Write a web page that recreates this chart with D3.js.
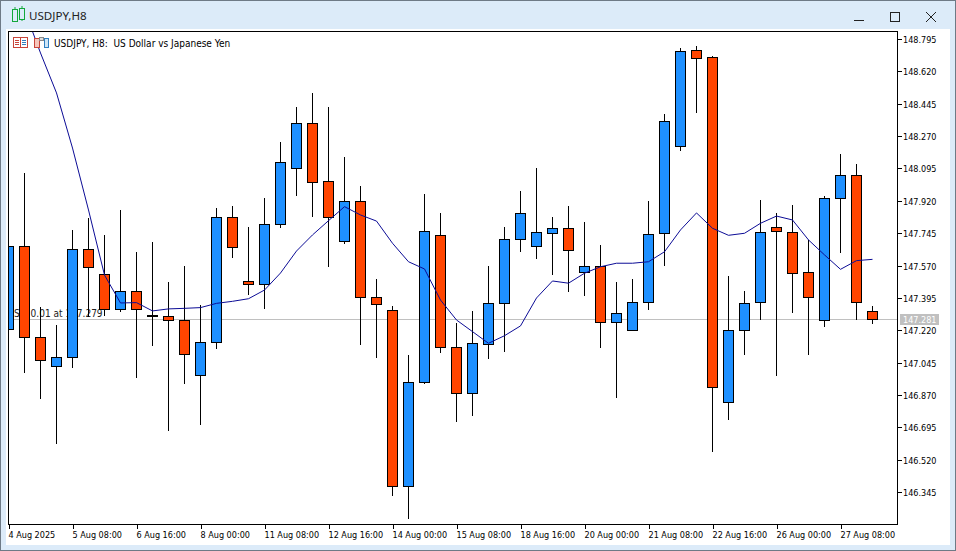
<!DOCTYPE html>
<html>
<head>
<meta charset="utf-8">
<title>USDJPY,H8</title>
<script src="https://cdn.jsdelivr.net/npm/d3@7"></script>
<style>
  html, body { margin: 0; padding: 0; background: #fff; overflow: hidden; }
  svg { display: block; font-family: "DejaVu Sans", "Liberation Sans", sans-serif; font-stretch: condensed; }
  .axis text { font-size: 9px; fill: #000; font-family: "DejaVu Sans", sans-serif; font-stretch: condensed; }
  .axis path, .axis line { stroke: #000; shape-rendering: crispEdges; }
</style>
</head>
<body>
<div id="chart"></div>
<script>
// One entry per H8 candle, first one is cut by the left edge
const opens = [
  147.224, 147.678, 147.185, 147.028, 147.076, 147.657, 147.525, 147.336, 147.433, 147.300, 147.298,
  147.276, 146.979, 147.157, 147.833, 147.487, 147.469, 147.796, 148.099, 148.342, 148.028,
  147.702, 147.920, 147.401, 147.331, 146.379, 146.941, 147.736, 147.130, 146.882, 147.147,
  147.368, 147.715, 147.677, 147.747, 147.774, 147.536, 147.569, 147.266, 147.222, 147.374,
  147.747, 148.217, 148.737, 148.699, 146.833, 147.222, 147.374, 147.779, 147.752, 147.536,
  147.276, 147.936, 148.061, 147.325
];
const highs = [
  147.750, 148.078, 147.350, 147.256, 147.770, 147.830, 147.738, 147.877, 147.651, 147.705, 147.487,
  147.575, 147.363, 147.884, 147.895, 147.781, 147.943, 148.242, 148.435, 148.511, 148.435,
  148.160, 148.003, 147.505, 147.359, 147.094, 147.960, 147.857, 147.266, 147.327, 147.575,
  147.786, 147.976, 148.105, 147.840, 147.895, 147.808, 147.684, 147.484, 147.500, 147.922,
  148.396, 148.753, 148.765, 148.711, 147.516, 147.440, 147.932, 147.862, 147.900, 147.711,
  147.949, 148.176, 148.122, 147.354
];
const lows = [
  147.150, 146.993, 146.852, 146.609, 147.020, 147.296, 147.300, 147.323, 146.966, 147.139, 146.682,
  146.934, 146.712, 147.123, 147.615, 147.415, 147.341, 147.777, 147.950, 147.837, 147.566,
  147.691, 147.145, 147.074, 146.328, 146.204, 146.934, 147.101, 146.728, 146.761, 147.069,
  147.107, 147.647, 147.610, 147.523, 147.431, 147.409, 147.128, 146.858, 147.222, 147.334,
  147.572, 148.194, 148.399, 146.566, 146.739, 147.090, 147.280, 146.977, 147.318, 147.090,
  147.242, 147.642, 147.280, 147.258
];
const closes = [
  147.678, 147.185, 147.060, 147.076, 147.657, 147.563, 147.336, 147.433, 147.336, 147.299, 147.276,
  147.093, 147.157, 147.833, 147.671, 147.469, 147.796, 148.131, 148.342, 148.023, 147.833,
  147.920, 147.401, 147.361, 146.379, 146.941, 147.758, 147.130, 146.882, 147.152, 147.368,
  147.715, 147.855, 147.752, 147.774, 147.655, 147.569, 147.266, 147.314, 147.374, 147.742,
  148.353, 148.731, 148.693, 146.914, 147.222, 147.368, 147.752, 147.757, 147.531, 147.401,
  147.936, 148.061, 147.374, 147.281
];
// Moving average, the first points run off the top of the chart
const maValues = [
  149.063, 148.955, 148.722, 148.506, 148.208, 147.873, 147.521, 147.370, 147.372, 147.327, 147.338,
  147.341, 147.345, 147.368, 147.379, 147.393, 147.440, 147.532, 147.651, 147.738, 147.815,
  147.891, 147.846, 147.813, 147.693, 147.593, 147.554, 147.386, 147.278, 147.215, 147.152,
  147.193, 147.246, 147.397, 147.489, 147.477, 147.531, 147.566, 147.585, 147.585, 147.593,
  147.647, 147.765, 147.857, 147.774, 147.736, 147.747, 147.801, 147.840, 147.819, 147.711,
  147.630, 147.552, 147.599, 147.606
];
// Every 4th candle carries a time label
const timeLabels = [
  '4 Aug 2025', '5 Aug 08:00', '6 Aug 16:00', '8 Aug 00:00', '11 Aug 08:00', '12 Aug 16:00',
  '14 Aug 00:00', '15 Aug 08:00', '18 Aug 16:00', '20 Aug 00:00', '21 Aug 08:00', '22 Aug 16:00',
  '26 Aug 00:00', '27 Aug 08:00'
];
const priceTicks = [
  148.795, 148.620, 148.445, 148.270, 148.095, 147.920, 147.745, 147.570,
  147.395, 147.220, 147.045, 146.870, 146.695, 146.520, 146.345
];
const lastPrice = 147.281;
const slText = 'S/L 0.01 at 147.279';

(function initChart() {
  const width = 956, height = 551;
  const frame = { top: 31, right: 897, bottom: 524, left: 8 };
  const UP = '#1e90ff', DOWN = '#ff4500', MA = '#0c0c96', GRID = '#c0c0c0';

  const svg = d3.select('#chart')
    .append('svg')
    .attr('width', width)
    .attr('height', height)
    .attr('role', 'img')
    .attr('aria-label', 'USDJPY H8 candlestick chart');

  // ----- window chrome -----
  svg.append('rect').attr('width', width).attr('height', height).attr('fill', '#dcebf9');
  svg.append('rect').attr('x', 0.5).attr('y', 0.5)
    .attr('width', width - 1).attr('height', height - 1)
    .attr('fill', 'none').attr('stroke', '#6e7a86');
  svg.append('rect').attr('x', 6).attr('y', 29)
    .attr('width', 944).attr('height', 516).attr('fill', '#fff');

  const icon = svg.append('g').attr('fill', 'none').attr('stroke', '#12a83a').attr('stroke-width', 1);
  [[13, 11, 9, 7, 22], [20, 10, 8, 6, 21]].forEach(([x, y, h, t, b]) => {
    icon.append('rect').attr('x', x - 0.5).attr('y', y - 1.5).attr('width', 5).attr('height', h + 3);
    icon.append('path').attr('d', `M${x + 2},${t}V${y - 1.5}M${x + 2},${y + h + 1.5}V${b}`);
  });

  svg.append('text')
    .attr('x', 29).attr('y', 19.5)
    .attr('font-family', '"Noto Sans", sans-serif')
    .style('font-stretch', 'normal')
    .attr('font-size', 11.6).attr('fill', '#222')
    .text('USDJPY,H8');

  const btn = svg.append('g').attr('fill', 'none').attr('stroke', '#222').attr('shape-rendering', 'crispEdges');
  btn.append('path').attr('d', 'M854,20.5H864');
  btn.append('rect').attr('x', 890.5).attr('y', 12.5).attr('width', 9).attr('height', 9);
  svg.append('path').attr('d', 'M926,12L936,22M936,12L926,22').attr('stroke', '#222').attr('fill', 'none');

  // ----- scales -----
  const x = d3.scaleLinear().domain([0, opens.length - 1]).range([8, 872]);
  const y = d3.scaleLinear()
    .domain([priceTicks[0], priceTicks[priceTicks.length - 1]])
    .range([39.5, 492.5]);
  const px = v => Math.floor(y(v)) + 0.5;

  svg.append('clipPath').attr('id', 'plot').append('rect')
    .attr('x', frame.left).attr('y', frame.top)
    .attr('width', frame.right - frame.left).attr('height', frame.bottom - frame.top);

  const g = svg.append('g').attr('clip-path', 'url(#plot)');

  // Order line goes under the candles
  g.append('line')
    .attr('x1', frame.left).attr('x2', frame.right)
    .attr('y1', px(lastPrice)).attr('y2', px(lastPrice))
    .attr('stroke', GRID).attr('shape-rendering', 'crispEdges');

  g.append('text')
    .attr('x', 14).attr('y', px(lastPrice) - 2.5)
    .attr('font-size', 10).attr('fill', '#222')
    .text(slText);

  // ----- candles -----
  const candles = g.append('g').selectAll('g')
    .data(opens.map((o, i) => ({ i, o, h: highs[i], l: lows[i], c: closes[i] })))
    .join('g')
    .attr('transform', d => `translate(${x(d.i) + 0.5},0)`)
    .attr('shape-rendering', 'crispEdges');

  candles.append('line')
    .attr('y1', d => px(d.h))
    .attr('y2', d => px(d.l))
    .attr('stroke', '#000');

  candles.append('rect')
    .attr('x', -5)
    .attr('y', d => px(Math.max(d.o, d.c)))
    .attr('width', 10)
    .attr('height', d => px(Math.min(d.o, d.c)) - px(Math.max(d.o, d.c)))
    .attr('fill', d => d.c >= d.o ? UP : DOWN)
    .attr('stroke', '#000');

  // ----- moving average -----
  g.append('path')
    .datum(maValues)
    .attr('fill', 'none')
    .attr('stroke', MA)
    .attr('stroke-width', 1)
    .attr('d', d3.line().x((d, i) => x(i) + 0.5).y(d => y(d)));

  // ----- frame and axes -----
  svg.append('path')
    .attr('d', `M${frame.left + 0.5},${frame.bottom}V${frame.top + 0.5}H${frame.right}`)
    .attr('fill', 'none').attr('stroke', '#000').attr('shape-rendering', 'crispEdges');

  const tickIdx = timeLabels.map((d, i) => i * 4);
  const xAxis = svg.append('g')
    .attr('class', 'axis x')
    .attr('transform', `translate(0,${frame.bottom + 0.5})`)
    .call(d3.axisBottom(d3.scaleLinear().domain([0, opens.length - 1]).range([8.5, 872.5]))
      .tickValues(tickIdx)
      .tickSize(4)
      .tickSizeOuter(0)
      .tickFormat((d, i) => timeLabels[i]));
  xAxis.select('.domain').attr('d', `M${frame.left},0H${frame.right + 1}`);
  xAxis.selectAll('text')
    .attr('text-anchor', 'start')
    .attr('x', -0.5).attr('y', 5)
    .attr('dy', '0.9em');

  const yAxis = svg.append('g')
    .attr('class', 'axis y')
    .attr('transform', `translate(${frame.right + 0.5},0)`)
    .call(d3.axisRight(y)
      .tickValues(priceTicks)
      .tickSize(4)
      .tickPadding(1.5)
      .tickFormat(d3.format('.3f')));
  yAxis.select('.domain').attr('d', `M0,${frame.top}V${frame.bottom}`);
  yAxis.selectAll('.tick').attr('transform', d => `translate(0,${px(d)})`);
  yAxis.selectAll('text').attr('dy', '3.5px');

  // Current price tag
  svg.append('rect')
    .attr('x', 900).attr('y', px(lastPrice) - 5.5)
    .attr('width', 39).attr('height', 11)
    .attr('fill', GRID);
  svg.append('text')
    .attr('x', 903).attr('y', px(lastPrice) + 3.5)
    .attr('font-size', 9).attr('fill', '#fff')
    .text(d3.format('.3f')(lastPrice));

  // ----- chart header -----
  const head = svg.append('g').attr('shape-rendering', 'crispEdges');
  head.append('rect').attr('x', 13.5).attr('y', 37.5).attr('width', 14).attr('height', 10)
    .attr('fill', '#fff').attr('stroke', '#c8453a');
  head.append('path').attr('d', 'M20.5,38V47').attr('stroke', '#c8453a');
  head.append('path').attr('d', 'M15,40.5H19M15,42.5H19M15,44.5H19').attr('stroke', '#c8453a');
  head.append('path').attr('d', 'M22,40.5H26M22,42.5H26M22,44.5H26').attr('stroke', '#2f7fc0');
  head.append('rect').attr('x', 34.5).attr('y', 38.5).attr('width', 5).attr('height', 9)
    .attr('fill', '#f6c6bc').attr('stroke', '#c8453a');
  head.append('rect').attr('x', 39.5).attr('y', 37.5).attr('width', 4).attr('height', 3)
    .attr('fill', '#ddd').attr('stroke', '#888');
  head.append('rect').attr('x', 44.5).attr('y', 38.5).attr('width', 4).attr('height', 9)
    .attr('fill', '#cfe6f7').attr('stroke', '#2f7fc0');

  svg.append('text')
    .attr('x', 54).attr('y', 46.5)
    .attr('font-size', 10).attr('fill', '#000')
    .attr('xml:space', 'preserve')
    .style('white-space', 'pre')
    .text('USDJPY, H8:  US Dollar vs Japanese Yen');
})();
</script>
</body>
</html>
